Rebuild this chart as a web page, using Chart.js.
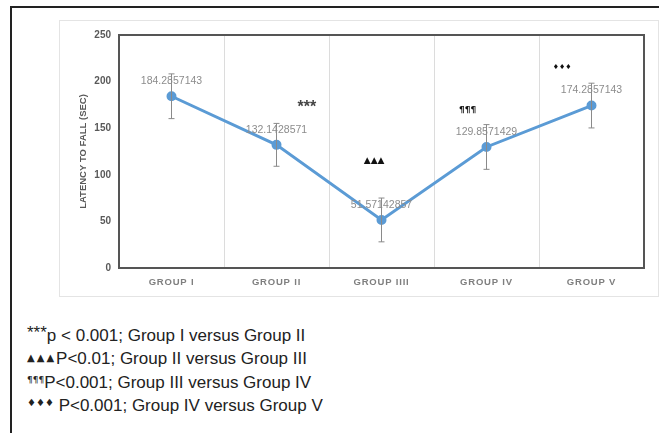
<!DOCTYPE html>
<html>
<head>
<meta charset="utf-8">
<script src="https://cdn.jsdelivr.net/npm/chart.js@4.4.1/dist/chart.umd.min.js"></script>
<style>
    body { margin: 0; background: #fff; font-family: "Liberation Sans", Arial, sans-serif; }
    #frame { position: absolute; left: 10px; top: 6px; width: 660px; height: 440px;
        border-left: 2px solid #222; border-top: 2px solid #222; }
    #box { position: absolute; left: 59px; top: 20px; width: 598px; height: 275px;
        border: 1px solid #e4e4e4; }
    #notes { position: absolute; left: 27px; top: 324px; font-size: 17px; color: #222; }
    #notes div { height: 23.4px; line-height: 23.4px; white-space: nowrap; }
    #notes span { position: relative; font-family: "DejaVu Sans", sans-serif; }
    #notes .s0 { font-family: "Liberation Sans", Arial; font-size: 17px; top: -3px; }
    #notes .s1 { font-size: 10px; top: -3px; letter-spacing: 2px; }
    #notes .s2 { font-size: 9px; top: -5px; }
    #notes .s3 { font-size: 10px; top: -5px; }
</style>
</head>
<body>
<div id="frame"></div>
<div id="box"><canvas id="chart"></canvas></div>
<div id="notes"></div>

<script>
var groups = ['GROUP I', 'GROUP II', 'GROUP IIII', 'GROUP IV', 'GROUP V'];
var latency = [184.2857143, 132.1428571, 51.57142857, 129.8571429, 174.2857143];
var errBars = [24, 23, 23.5, 24, 24];

// significance marks on the plot (x in category index, y in seconds)
var marks = ['***', '\u25B2\u25B2\u25B2', '\u00B6\u00B6\u00B6', '\u2666\u2666\u2666'];
var markX = [1.29, 1.93, 2.82, 3.72];
var markY = [176.6, 115.7, 169, 216];

var noteSyms = ['***', '\u25B2\u25B2\u25B2', '\u00B6\u00B6\u00B6', '\u2666\u2666\u2666'];
var noteText = ['p < 0.001; Group I versus Group II', 'P<0.01; Group II versus Group III',
    'P<0.001; Group III versus Group IV', '&nbsp;P<0.001; Group IV versus Group V'];

var notes = document.getElementById('notes');
for (var i = 0; i < noteText.length; i++) {
    notes.innerHTML += '<div><span class="s' + i + '">' + noteSyms[i] + '</span>' + noteText[i] + '</div>';
}

var extras = {
    id: 'extras',
    afterDatasetsDraw: function(chart) {
        var ctx = chart.ctx, x = chart.scales.x, y = chart.scales.y, a = chart.chartArea;
        ctx.save();
        // frame round plot area
        ctx.strokeStyle = '#555';
        ctx.lineWidth = 2;
        ctx.strokeRect(a.left, a.top, a.right - a.left, a.bottom - a.top);
        // error bars
        ctx.strokeStyle = '#8a8a8a';
        ctx.lineWidth = 1;
        for (var i = 0; i < latency.length; i++) {
            var px = x.getPixelForValue(i);
            var hi = y.getPixelForValue(latency[i] + errBars[i]);
            var lo = y.getPixelForValue(latency[i] - errBars[i]);
            ctx.beginPath();
            ctx.moveTo(px, hi); ctx.lineTo(px, lo);
            ctx.moveTo(px - 3, hi); ctx.lineTo(px + 3, hi);
            ctx.moveTo(px - 3, lo); ctx.lineTo(px + 3, lo);
            ctx.stroke();
        }
        // value labels
        ctx.fillStyle = '#8c8c8c';
        ctx.font = '10.5px "Liberation Sans", Arial, sans-serif';
        ctx.textAlign = 'center';
        ctx.textBaseline = 'middle';
        for (i = 0; i < latency.length; i++) {
            ctx.fillText(String(latency[i]), x.getPixelForValue(i), y.getPixelForValue(latency[i]) - 15);
        }
        // significance marks
        for (i = 0; i < marks.length; i++) {
            var mx = x.getPixelForValue(markX[i]), my = y.getPixelForValue(markY[i]);
            if (i === 0) {
                ctx.fillStyle = '#fff';
                ctx.fillRect(mx - 14, my - 12, 28, 24);
                ctx.fillStyle = '#444';
                ctx.font = 'bold 16px "Liberation Sans", Arial';
                ctx.fillText(marks[i], mx, my + 4);
                continue;
            }
            ctx.fillStyle = '#111';
            ctx.font = i === 1 ? '9px "DejaVu Sans"' : (i === 2 ? 'bold 9px "DejaVu Sans"' : '7px "DejaVu Sans"');
            ctx.fillText(marks[i], mx, my);
        }
        ctx.restore();
    }
};

var chart = new Chart(document.getElementById('chart'), {
    type: 'line',
    data: {
        labels: groups,
        datasets: [{
            data: latency,
            borderColor: '#5b9bd5',
            backgroundColor: '#5b9bd5',
            borderWidth: 3,
            pointRadius: 3.5,
            pointHoverRadius: 3.5,
            tension: 0
        }]
    },
    options: {
        responsive: true,
        maintainAspectRatio: false,
        animation: false,
        layout: { padding: { top: 12, right: 14, left: 0, bottom: 0 } },
        plugins: { legend: { display: false }, tooltip: { enabled: false } },
        scales: {
            x: {
                offset: true,
                grid: { offset: true, color: '#dcdcdc', drawTicks: false },
                border: { display: false },
                ticks: { color: '#7f7f7f', font: { size: 9.5, weight: 'bold', family: '"Liberation Sans", Arial' }, padding: 9, maxRotation: 0 },
                afterFit: function(s) { s.height = 28; }
            },
            y: {
                min: 0, max: 250,
                grid: { display: false, drawTicks: false },
                border: { display: false },
                ticks: { stepSize: 50, color: '#595959', font: { size: 10, weight: 'bold', family: '"Liberation Sans", Arial' }, padding: 8 },
                title: { display: true, text: 'LATENCY TO FALL (SEC)', color: '#595959',
                    font: { size: 9.5, weight: 'bold', family: '"Liberation Sans", Arial' }, padding: { top: 18, bottom: 0 } },
                afterFit: function(s) { s.width = 59; }
            }
        }
    },
    plugins: [extras]
});

// spread the category letters a little, as in the original
var xs = chart.scales.x;
var drawX = xs.drawLabels;
xs.drawLabels = function(area) {
    chart.ctx.save();
    chart.ctx.letterSpacing = '0.8px';
    drawX.call(xs, area);
    chart.ctx.restore();
};
chart.draw();
</script>
</body>
</html>
